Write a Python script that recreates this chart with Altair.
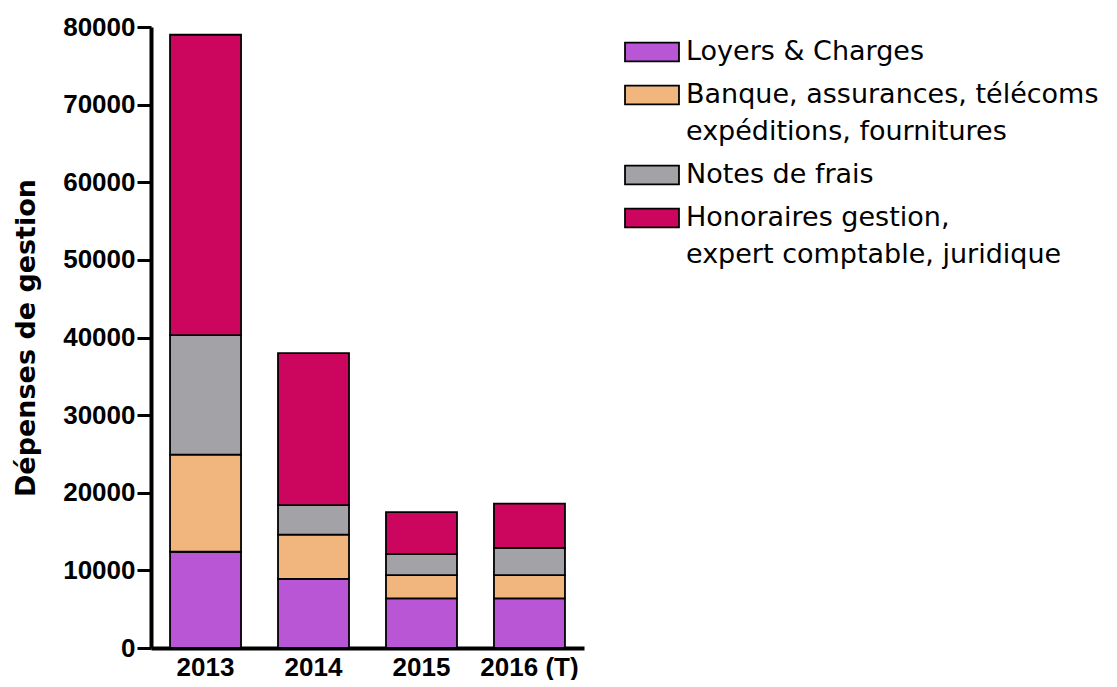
import altair as alt
import pandas as pd

years = ["2013", "2014", "2015", "2016 (T)"]
categories = [
    "Loyers & Charges",
    "Banque, assurances, télécoms\nexpéditions, fournitures",
    "Notes de frais",
    "Honoraires gestion,\nexpert comptable, juridique",
]
loyers = [12400, 8900, 6400, 6400]
banque = [12500, 5700, 3000, 3000]
notes = [15400, 3800, 2700, 3500]
honoraires = [38700, 19600, 5400, 5700]
colors = ["#B856D6", "#F0B67E", "#A3A2A7", "#CC065E"]

rows = []
for i, y in enumerate(years):
    for k, (cat, vals) in enumerate(zip(categories, [loyers, banque, notes, honoraires])):
        rows.append({"annee": y, "categorie": cat, "valeur": vals[i], "ordre": k})
df = pd.DataFrame(rows)

font = "Liberation Sans"

chart = alt.Chart(df).mark_bar(stroke="black", strokeWidth=1.8, size=71).encode(
    x=alt.X("annee:N", sort=years, title=None,
            scale=alt.Scale(paddingInner=0.35, paddingOuter=0.18),
            axis=alt.Axis(labelAngle=0, labelFont=font, labelFontSize=26, labelFontWeight="bold",
                          labelColor="black", domainColor="black", domainWidth=4, ticks=False,
                          labelPadding=6)),
    y=alt.Y("valeur:Q", stack="zero", title="Dépenses de gestion",
            scale=alt.Scale(domain=[0, 80000], nice=False),
            axis=alt.Axis(values=list(range(0, 80001, 10000)), grid=False, format="d",
                          labelFont=font, labelFontSize=26, labelFontWeight="bold", labelColor="black",
                          titleFont="DejaVu Sans", titleFontSize=27, titleFontWeight="bold", titleColor="black",
                          domainColor="black", domainWidth=4, tickColor="black", tickWidth=3,
                          tickSize=14, labelPadding=2, titlePadding=22)),
    color=alt.Color("categorie:N", sort=categories,
                    scale=alt.Scale(domain=categories, range=colors),
                    legend=alt.Legend(title=None, orient="right", labelFont="DejaVu Sans", labelFontSize=27,
                                      labelColor="black", labelExpr="split(datum.label, '\\n')",
                                      labelLimit=600, symbolType="M-1.45,-0.5L1.45,-0.5L1.45,0.5L-1.45,0.5Z",
                                      symbolSize=1385, symbolStrokeColor="black", symbolStrokeWidth=1.8,
                                      symbolOpacity=1,
                                      rowPadding=10, offset=43, labelOffset=14, padding=5)),
    order=alt.Order("ordre:Q", sort="ascending"),
).properties(width=433, height=621, padding={"top": 6, "left": 4, "right": 0, "bottom": 0}).configure(
    style={"guide-label": {"lineHeight": 37}}
).configure_view(stroke=None)

chart.save("out.html", embed_options={"renderer": "svg", "actions": False})
